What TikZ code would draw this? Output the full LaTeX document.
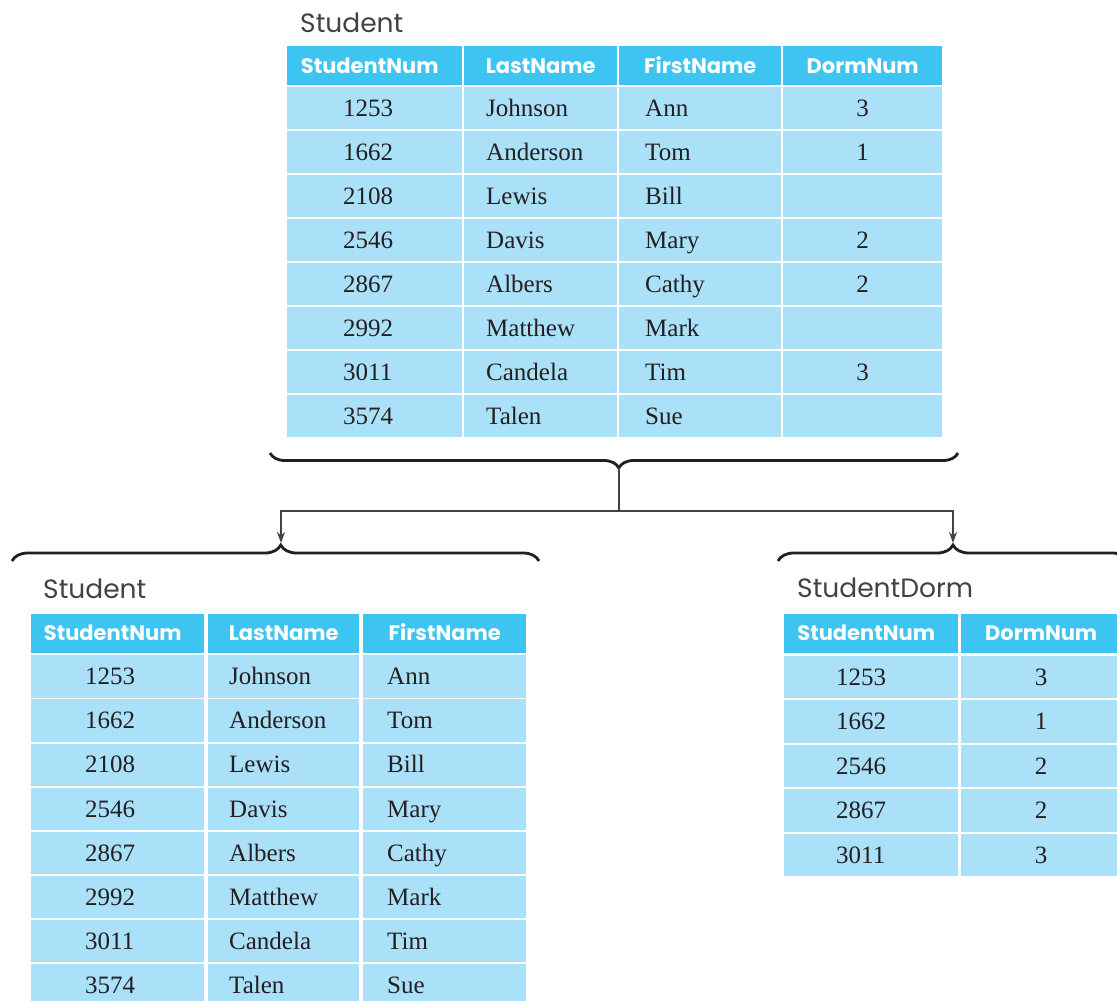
\documentclass[tikz,border=0pt]{standalone}
\usepackage{fontspec}
\setmainfont{Liberation Serif}
\newfontfamily\hdrfont{Poppins}
\usetikzlibrary{decorations.pathreplacing,arrows.meta}
\definecolor{hdrblue}{RGB}{62,196,240}
\definecolor{rowblue}{RGB}{171,224,249}
\definecolor{ink}{RGB}{35,31,32}
\begin{document}
\begin{tikzpicture}[x=1pt,y=-1pt,
  cellbg/.style={rectangle, inner sep=0pt, anchor=north west, draw=none},
  hdrcell/.style={cellbg, fill=hdrblue},
  datcell/.style={cellbg, fill=rowblue},
  hdrtext/.style={inner sep=0pt, text=white, font=\hdrfont\bfseries\fontsize{21}{21}\selectfont, text height=14.7pt, text depth=0pt},
  dattext/.style={inner sep=0pt, text=ink, font=\fontsize{25}{25}\selectfont, text height=16.5pt, text depth=0pt},
  title/.style={inner sep=0pt, anchor=base west, text=ink!85, font=\hdrfont\fontsize{26.5}{26.5}\selectfont},
  bracestyle/.style={line width=2.8pt, ink, decorate},
  link/.style={line width=1.3pt, ink!85},
  linkarrow/.style={link, -{Stealth[length=11pt,width=8pt]}}
]
\useasboundingbox (0,0) rectangle (1117,1001);
\clip (0,0) rectangle (1117,1001);

% ---------- original Student table ----------
\node[title] (A-title) at (300,32) {Student};
\foreach \nm/\xl/\w/\dx/\txt in {c1/287/175/-5/StudentNum, c2/464/153/0/LastName, c3/619/162/0/FirstName, c4/783/159/0/DormNum} {
  \node[hdrcell, minimum width=\w, minimum height=39] (A-h-\nm) at (\xl,46) {};
  \node[hdrtext] (A-h-\nm-t) at ([xshift=\dx pt]A-h-\nm.center) {\txt};
}
\foreach \vA/\vB/\vC/\vD [count=\i] in {1253/Johnson/Ann/3, 1662/Anderson/Tom/1, 2108/Lewis/Bill/{}, 2546/Davis/Mary/2, 2867/Albers/Cathy/2, 2992/Matthew/Mark/{}, 3011/Candela/Tim/3, 3574/Talen/Sue/{}} {
  \pgfmathsetmacro\yt{87+44*(\i-1)}
  \node[datcell, minimum width=175, minimum height=42] (A-\i-1) at (287,\yt) {};
  \node[datcell, minimum width=153, minimum height=42] (A-\i-2) at (464,\yt) {};
  \node[datcell, minimum width=162, minimum height=42] (A-\i-3) at (619,\yt) {};
  \node[datcell, minimum width=159, minimum height=42] (A-\i-4) at (783,\yt) {};
  \node[dattext, anchor=west] (A-\i-1-t) at ([xshift=56pt]A-\i-1.west) {\vA};
  \node[dattext, anchor=west] (A-\i-2-t) at ([xshift=22pt]A-\i-2.west) {\vB};
  \node[dattext, anchor=west] (A-\i-3-t) at ([xshift=26pt]A-\i-3.west) {\vC};
  \node[dattext] (A-\i-4-t) at (A-\i-4.center) {\vD};
}

% ---------- braces and split arrows ----------
\coordinate (bA-l) at (270,453);
\coordinate (bA-r) at (958,453);
\draw[bracestyle, decoration={brace, amplitude=15pt, aspect=0.493}] (bA-r) -- (bA-l);
\coordinate (tipA) at (619,468);
\coordinate (split) at (619,511);
\coordinate (tipL) at (281,543);
\coordinate (tipR) at (953,543);
\draw[link] (tipA) -- (split);
\draw[linkarrow] (split) -| (tipL);
\draw[linkarrow] (split) -| (tipR);

\coordinate (bB-l) at (12,561);
\coordinate (bB-r) at (539,561);
\draw[bracestyle, decoration={brace, amplitude=16pt, aspect=0.510}] (bB-l) -- (bB-r);
\coordinate (bC-l) at (778,561);
\coordinate (bC-r) at (1128,561);
\draw[bracestyle, decoration={brace, amplitude=16pt, aspect=0.5}] (bC-l) -- (bC-r);

% ---------- Student table without DormNum ----------
\node[title] (B-title) at (43,598) {Student};
\foreach \nm/\xl/\w/\dx/\txt in {c1/31/173/-5/StudentNum, c2/208/151/0/LastName, c3/363/163/0/FirstName} {
  \node[hdrcell, minimum width=\w, minimum height=39] (B-h-\nm) at (\xl,613.5) {};
  \node[hdrtext] (B-h-\nm-t) at ([xshift=\dx pt]B-h-\nm.center) {\txt};
}
\foreach \vA/\vB/\vC [count=\i] in {1253/Johnson/Ann, 1662/Anderson/Tom, 2108/Lewis/Bill, 2546/Davis/Mary, 2867/Albers/Cathy, 2992/Matthew/Mark, 3011/Candela/Tim, 3574/Talen/Sue} {
  \pgfmathsetmacro\yt{655+44.15*(\i-1)}
  \node[datcell, minimum width=173, minimum height=42.3] (B-\i-1) at (31,\yt) {};
  \node[datcell, minimum width=151, minimum height=42.3] (B-\i-2) at (208,\yt) {};
  \node[datcell, minimum width=163, minimum height=42.3] (B-\i-3) at (363,\yt) {};
  \node[dattext, anchor=west] (B-\i-1-t) at ([xshift=54pt]B-\i-1.west) {\vA};
  \node[dattext, anchor=west] (B-\i-2-t) at ([xshift=21pt]B-\i-2.west) {\vB};
  \node[dattext, anchor=west] (B-\i-3-t) at ([xshift=24pt]B-\i-3.west) {\vC};
}

% ---------- StudentDorm table ----------
\node[title] (C-title) at (797,597) {StudentDorm};
\foreach \nm/\xl/\w/\dx/\txt in {c1/784/174/-5/StudentNum, c2/961/160/0/DormNum} {
  \node[hdrcell, minimum width=\w, minimum height=39] (C-h-\nm) at (\xl,613.5) {};
  \node[hdrtext] (C-h-\nm-t) at ([xshift=\dx pt]C-h-\nm.center) {\txt};
}
\foreach \vA/\vB [count=\i] in {1253/3, 1662/1, 2546/2, 2867/2, 3011/3} {
  \pgfmathsetmacro\yt{655.5+44.45*(\i-1)}
  \node[datcell, minimum width=174, minimum height=42.5] (C-\i-1) at (784,\yt) {};
  \node[datcell, minimum width=160, minimum height=42.5] (C-\i-2) at (961,\yt) {};
  \node[dattext, anchor=west] (C-\i-1-t) at ([xshift=52pt]C-\i-1.west) {\vA};
  \node[dattext] (C-\i-2-t) at (C-\i-2.center) {\vB};
}
\end{tikzpicture}
\end{document}
